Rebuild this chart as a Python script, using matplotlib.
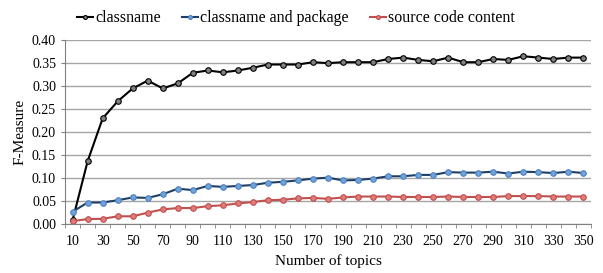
import numpy as np
import matplotlib.pyplot as plt

# Data
topics = np.arange(10, 360, 10)
classname = [0.009, 0.137, 0.230, 0.267, 0.295, 0.312, 0.295, 0.306, 0.329, 0.334,
             0.330, 0.334, 0.340, 0.347, 0.347, 0.347, 0.352, 0.350, 0.352, 0.352,
             0.352, 0.359, 0.362, 0.357, 0.354, 0.362, 0.352, 0.352, 0.359, 0.357,
             0.365, 0.362, 0.359, 0.362, 0.362]
classname_pkg = [0.027, 0.047, 0.047, 0.052, 0.058, 0.057, 0.065, 0.077, 0.074, 0.083,
                 0.081, 0.083, 0.085, 0.090, 0.092, 0.095, 0.099, 0.101, 0.095, 0.096,
                 0.099, 0.104, 0.104, 0.107, 0.107, 0.113, 0.112, 0.112, 0.114, 0.110,
                 0.114, 0.113, 0.111, 0.114, 0.111]
source_code = [0.0065, 0.011, 0.0115, 0.017, 0.017, 0.025, 0.032, 0.035, 0.035, 0.039,
               0.041, 0.045, 0.048, 0.052, 0.053, 0.056, 0.057, 0.055, 0.058, 0.060,
               0.060, 0.060, 0.059, 0.059, 0.059, 0.060, 0.059, 0.059, 0.059, 0.061,
               0.061, 0.061, 0.060, 0.060, 0.060]

labels = ['classname', 'classname and package', 'source code content']
series = [classname, classname_pkg, source_code]
line_colors = ['#000000', '#1F3F66', '#C0504D']
face_colors = ['#808080', '#6FA3DC', '#E07B7B']
edge_colors = ['#000000', '#4F81BD', '#C0504D']

plt.rcParams['font.family'] = 'Liberation Serif'

fig = plt.figure(figsize=(6.03, 2.73), dpi=100)
ax = fig.add_axes([0.108, 0.179, 0.872, 0.674])

for lab, vals, lc, fc, ec in zip(labels, series, line_colors, face_colors, edge_colors):
    ax.plot(topics, vals, color=lc, linewidth=1.5, marker='o', markersize=4,
            markerfacecolor=fc, markeredgecolor=ec, markeredgewidth=0.8, label=lab)

ax.set_xlim(5, 355)
ax.set_ylim(0, 0.40)
ax.set_yticks(np.arange(0, 0.41, 0.05))
ax.set_yticklabels([f'{v:.2f}' for v in np.arange(0, 0.41, 0.05)], fontsize=10)
ax.set_xticks(topics[::2])
ax.set_xticklabels([str(t) for t in topics[::2]], fontsize=10)
ax.set_xticks(np.arange(5, 360, 10), minor=True)
ax.tick_params(axis='x', which='major', length=0, pad=8)
ax.tick_params(axis='x', which='minor', length=3, color='#808080')
ax.tick_params(axis='y', length=3, color='#808080')

ax.grid(axis='y', color='#A6A6A6', linewidth=1)
ax.set_axisbelow(True)
for s in ['top', 'right']:
    ax.spines[s].set_visible(False)
ax.spines['left'].set_color('#808080')
ax.spines['bottom'].set_color('#808080')

ax.set_xlabel('Number of topics', fontsize=11)
ax.set_ylabel('F-Measure', fontsize=11)

fig.legend(loc='upper center', bbox_to_anchor=(0.491, 1.015), ncol=3, frameon=False,
           fontsize=11.5, handlelength=1.0, handletextpad=0.15, columnspacing=1.3,
           markerscale=0.7)

fig.savefig('out.png', dpi=100)
